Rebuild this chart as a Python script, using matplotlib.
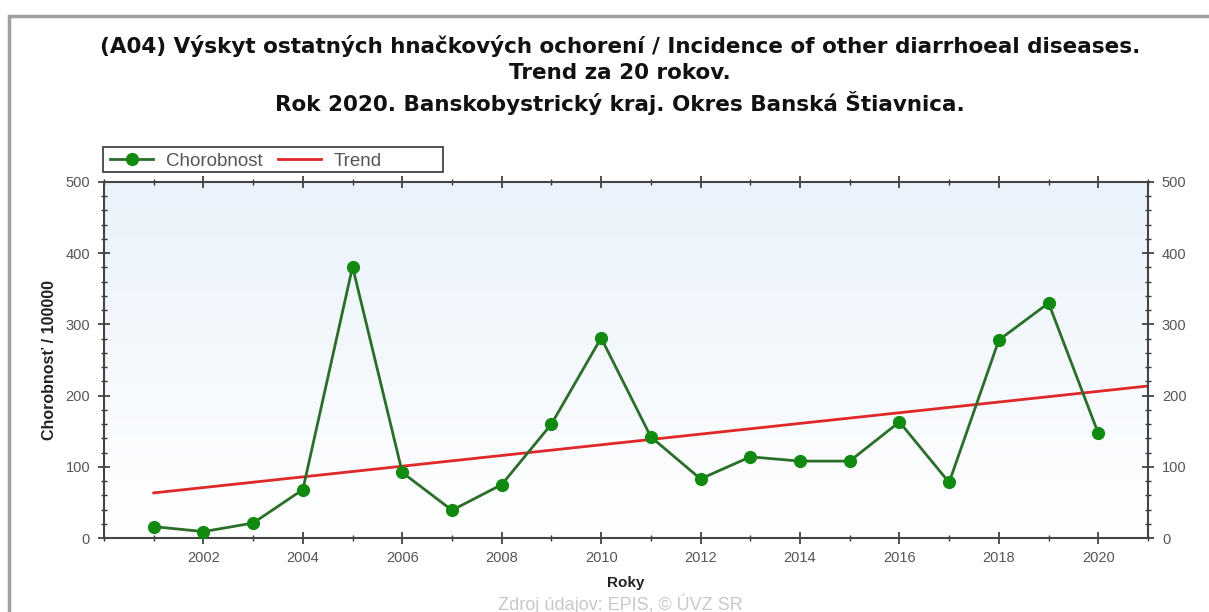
import numpy as np
import matplotlib
matplotlib.use("Agg")
import matplotlib.pyplot as plt
from matplotlib.ticker import MultipleLocator
from matplotlib.patches import Rectangle

plt.rcParams['font.family'] = ['Liberation Sans', 'DejaVu Sans']

years = [2001, 2002, 2003, 2004, 2005, 2006, 2007, 2008, 2009, 2010,
         2011, 2012, 2013, 2014, 2015, 2016, 2017, 2018, 2019, 2020]
values = [16, 9, 21, 68, 381, 92, 39, 75, 160, 281,
          142, 83, 114, 108, 108, 163, 78, 278, 330, 147]
x_ticks = [2002, 2004, 2006, 2008, 2010, 2012, 2014, 2016, 2018, 2020]
y_ticks = [0, 100, 200, 300, 400, 500]

title = ("(A04) Výskyt ostatných hnačkových ochorení / Incidence of other diarrhoeal diseases.\n"
         "Trend za 20 rokov.\n"
         "Rok 2020. Banskobystrický kraj. Okres Banská Štiavnica.")

W, H = 1209, 612
fig = plt.figure(figsize=(W / 100, H / 100), dpi=100)
fig.patch.set_facecolor('white')

# screenshot frame lines
fig.add_artist(Rectangle((9/W, -0.05), 1.1, 1.05 - 16/H, transform=fig.transFigure,
                         fill=False, edgecolor='#a0a0a0', linewidth=2.5))

ax = fig.add_axes([104/W, 1 - 538/H, (1148 - 104)/W, (538 - 182)/H])

# gradient background
grad = np.linspace(0, 1, 256).reshape(-1, 1)
cmap = matplotlib.colors.LinearSegmentedColormap.from_list('bg', ['#ffffff', '#eaf2fb'])
ax.imshow(grad, aspect='auto', cmap=cmap, origin='lower', extent=[0, 1, 0, 1],
          transform=ax.transAxes, zorder=0)

yrs = np.array(years, dtype=float)
vals = np.array(values, dtype=float)
slope, intercept = np.polyfit(yrs, vals, 1)
tx = np.array([years[0], years[-1] + 1], dtype=float)
ax.plot(tx, slope * tx + intercept, color='#e02828', lw=2, zorder=2, label='Trend')
ax.plot(years, values, color='#2a6e2a', lw=2, marker='o', markersize=8.5,
        markerfacecolor='#118a11', markeredgecolor='#118a11', zorder=3, label='Chorobnost')

ax.set_xlim(2000, 2021)
ax.set_ylim(0, 500)
ax.set_xticks(x_ticks)
ax.xaxis.set_minor_locator(MultipleLocator(1))
ax.set_yticks(y_ticks)
ax.yaxis.set_minor_locator(MultipleLocator(20))

ax.tick_params(axis='both', which='both', direction='inout', colors='#333333',
               labelcolor='#555555', labelsize=10.5)
ax.tick_params(axis='x', which='major', length=8, width=1.2, top=True, pad=5)
ax.tick_params(axis='x', which='minor', length=5, width=1, top=True)
ax.tick_params(axis='y', which='major', length=8, width=1.2, right=True, labelright=True, pad=6)
ax.tick_params(axis='y', which='minor', length=5, width=1, right=True)
for s in ax.spines.values():
    s.set_color('#444444')
    s.set_linewidth(1.5)

ax.set_xlabel('Roky', fontsize=11, fontweight='bold', color='#222222', labelpad=8)
ax.set_ylabel('Chorobnosť / 100000', fontsize=11.5, fontweight='bold', color='#222222', labelpad=6)

fig.text(0.513, 1 - 35/H, title, ha='center', va='top', fontsize=15.5, fontweight='bold',
         family=['DejaVu Sans'], color='#111111', linespacing=1.38)

# legend with a hand-sized frame
aw, ah = 1148 - 104, 538 - 182
ax.add_patch(Rectangle(((103 - 104) / aw, (538 - 172) / ah), (443 - 103) / aw, 25 / ah,
                       transform=ax.transAxes, fill=False, edgecolor='#444444',
                       linewidth=1.3, clip_on=False, zorder=5))
handles, labels = ax.get_legend_handles_labels()
leg = ax.legend(handles[::-1], labels[::-1], loc='center left',
                bbox_to_anchor=((110 - 104) / aw, (538 - 161) / ah),
                ncol=2, fontsize=13.5, frameon=False, borderpad=0,
                handlelength=2.3, handletextpad=0.7, columnspacing=0.8, borderaxespad=0)
for t in leg.get_texts():
    t.set_color('#555555')

fig.text(0.513, 1 - 604/H, 'Zdroj údajov: EPIS, © ÚVZ SR', ha='center', va='center',
         fontsize=13, color='#c8c8c8')

fig.savefig('out.png', dpi=100)
